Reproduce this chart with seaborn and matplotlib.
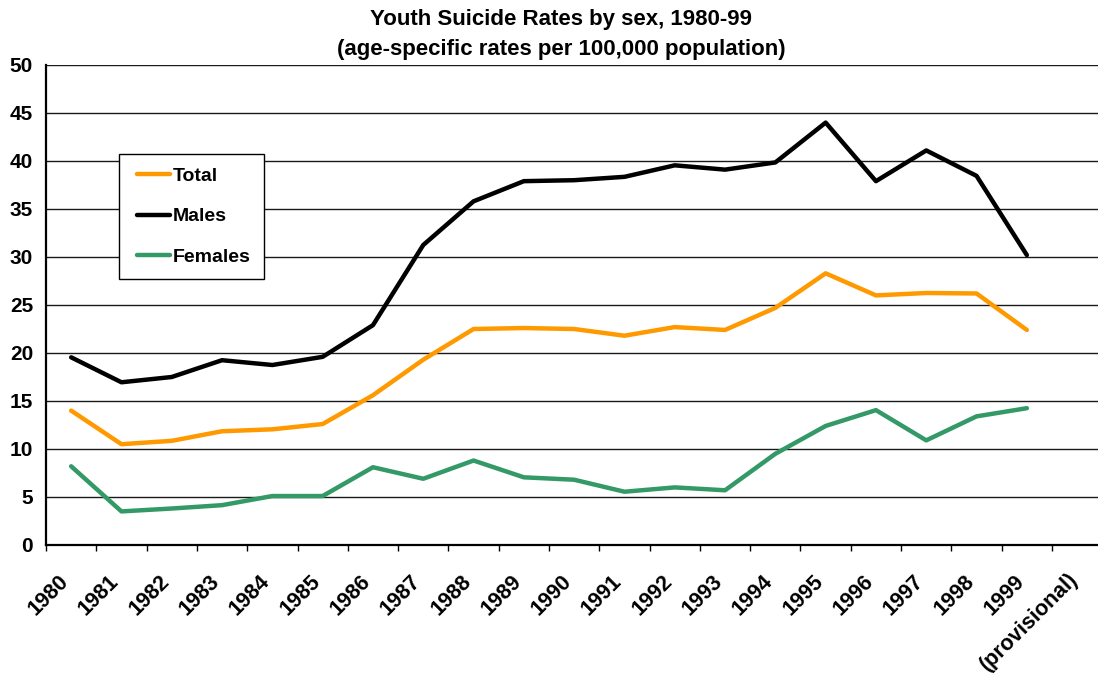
import matplotlib
matplotlib.use("Agg")
import matplotlib.pyplot as plt
from matplotlib.transforms import ScaledTranslation
from matplotlib.lines import Line2D
from matplotlib.legend_handler import HandlerLine2D
import pandas as pd
import seaborn as sns

# Youth suicide rates (age-specific, per 100,000 population)
years = ["1980", "1981", "1982", "1983", "1984", "1985", "1986", "1987", "1988", "1989",
         "1990", "1991", "1992", "1993", "1994", "1995", "1996", "1997", "1998", "1999"]
last_note = "(provisional)"

total = [14.0, 10.5, 10.85, 11.85, 12.05, 12.6, 15.6, 19.3, 22.5, 22.6,
         22.5, 21.8, 22.7, 22.4, 24.7, 28.3, 26.0, 26.25, 26.2, 22.4]
males = [19.55, 16.95, 17.5, 19.25, 18.75, 19.6, 22.9, 31.25, 35.8, 37.9,
         38.0, 38.35, 39.55, 39.1, 39.85, 44.0, 37.9, 41.1, 38.45, 30.2]
females = [8.2, 3.5, 3.8, 4.15, 5.1, 5.1, 8.1, 6.9, 8.8, 7.05,
           6.8, 5.55, 6.0, 5.7, 9.5, 12.4, 14.05, 10.9, 13.4, 14.25]

series_names = ["Total", "Males", "Females"]
series_colors = ["#FF9900", "#000000", "#339966"]

rows = []
for name, vals in zip(series_names, [total, males, females]):
    for i, v in enumerate(vals):
        rows.append({"pos": i, "year": years[i], "rate": v, "series": name})
df = pd.DataFrame(rows)

sns.set_style("white")
plt.rcParams["font.family"] = ["Liberation Sans", "DejaVu Sans"]
plt.rcParams["font.weight"] = "bold"
for key in ["text.color", "axes.labelcolor", "xtick.color", "ytick.color"]:
    plt.rcParams[key] = "black"

W, H = 1098, 675
fig = plt.figure(figsize=(W / 100, H / 100), dpi=100)
left, right, top, bottom = 46, 1098, 65, 545
ax = fig.add_axes([left / W, 1 - bottom / H, (right - left) / W, (bottom - top) / H])

line_w = 3.2
sns.lineplot(data=df, x="pos", y="rate", hue="series", hue_order=series_names,
             palette=series_colors, linewidth=line_w, sort=False, ax=ax,
             estimator=None, legend=True)

# category width so the plot area runs to the right edge
cat_w = 50.3
ax.set_xlim(-0.5, -0.5 + (right - left) / cat_w)
ax.set_ylim(0, 50)
ax.set_yticks(range(0, 51, 5))
ax.grid(axis="y", color="#1a1a1a", linewidth=1.0)
ax.grid(axis="x", visible=False)
ax.set_axisbelow(True)

for s in ["top", "right"]:
    ax.spines[s].set_visible(False)
for s in ["left", "bottom"]:
    ax.spines[s].set_color("black")
    ax.spines[s].set_linewidth(1.6)

ax.set_xlabel("")
ax.set_ylabel("")

tick_fs = 15
# y ticks
ax.tick_params(axis="y", direction="out", length=4.3, width=1.0, color="black",
               pad=5, labelsize=tick_fs)
for lab in ax.get_yticklabels():
    lab.set_fontweight("bold")

# x ticks: marks on category boundaries, labels on category centres
xlab_fs = 15.5
pad_pt = 19
pad_px = pad_pt * 100 / 72
ax.set_xticks([i for i in range(len(years))])
ax.set_xticklabels(years)
ax.set_xticks([i - 0.5 for i in range(len(years) + 1)], minor=True)
ax.tick_params(axis="x", which="major", length=0, pad=pad_pt, labelsize=xlab_fs)
ax.tick_params(axis="x", which="minor", direction="out", length=4.3, width=1.0,
               color="black", bottom=True)
dx_px = -13
shift = ScaledTranslation(dx_px / 100, 0, fig.dpi_scale_trans)
for lab in ax.get_xticklabels():
    lab.set_rotation(45)
    lab.set_rotation_mode("anchor")
    lab.set_ha("right")
    lab.set_va("top")
    lab.set_fontweight("bold")
    lab.set_transform(lab.get_transform() + shift)

# second line of the last category label
note_tr = ax.get_xaxis_transform() + ScaledTranslation((dx_px + 54) / 100,
                                                       (-pad_px + 3) / 100,
                                                       fig.dpi_scale_trans)
ax.text(len(years) - 1, 0, last_note, transform=note_tr, rotation=45,
        rotation_mode="anchor", ha="right", va="top", fontsize=xlab_fs,
        fontweight="bold", clip_on=False)

# legend
leg_fs = 14
handles, labels = ax.get_legend_handles_labels()
for h in handles:
    h.set_linewidth(line_w)
leg = ax.legend(handles, labels, loc="upper left",
                bbox_to_anchor=(119 / W, 1 - 154 / H), bbox_transform=fig.transFigure,
                frameon=True, fancybox=False, edgecolor="black", framealpha=1,
                fontsize=leg_fs, handlelength=1.95, handletextpad=0.15,
                labelspacing=1.18, borderpad=0.68, borderaxespad=0,
                handler_map={Line2D: HandlerLine2D(xpad=0.25)})
leg.get_frame().set_linewidth(1.0)
for t in leg.get_texts():
    t.set_fontweight("bold")

title_fs = 16
fig.text(561 / W, 1 - 19 / H, "Youth Suicide Rates by sex, 1980-99", ha="center",
         va="center", fontsize=title_fs, fontweight="bold")
fig.text(561 / W, 1 - 50 / H, "(age-specific rates per 100,000 population)", ha="center",
         va="center", fontsize=title_fs, fontweight="bold")

fig.savefig("out.png", dpi=100, facecolor="white")
